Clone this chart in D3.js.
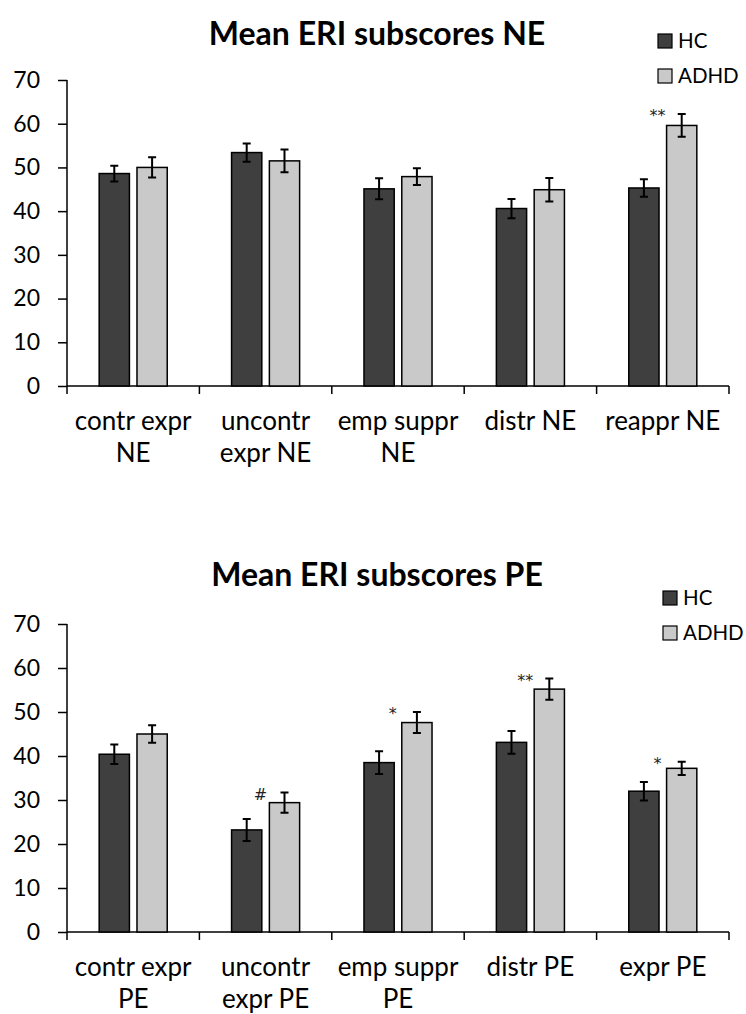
<!DOCTYPE html>
<html>
<head>
<meta charset="utf-8" />
<script src="https://d3js.org/d3.v7.min.js"></script>
<style>
body { margin: 0; background: #fff; }
svg text { font-family: Lato, "Open Sans", sans-serif; fill: #000; }
.title { font-weight: bold; font-size: 32px; }
.ytick text { font-size: 23px; }
.xlab { font-size: 26px; }
.legend text { font-size: 20.5px; }
.sig { font-family: "DejaVu Sans", sans-serif !important; font-size: 16px; fill: #222; }
</style>
</head>
<body>
<script>
// groups and values
var series = ["HC", "ADHD"];
var yTicks = [0, 10, 20, 30, 40, 50, 60, 70];

var categoriesNE = ["contr expr\nNE", "uncontr\nexpr NE", "emp suppr\nNE", "distr NE", "reappr NE"];
var hcNE = [48.6, 53.4, 45.1, 40.6, 45.3];
var adhdNE = [50.0, 51.5, 47.9, 44.9, 59.6];
var hcErrNE = [1.8, 2.1, 2.4, 2.2, 2.0];
var adhdErrNE = [2.3, 2.6, 1.9, 2.7, 2.6];
var sigNE = ["", "", "", "", "**"];

var categoriesPE = ["contr expr\nPE", "uncontr\nexpr PE", "emp suppr\nPE", "distr PE", "expr PE"];
var hcPE = [40.4, 23.2, 38.5, 43.1, 32.0];
var adhdPE = [45.0, 29.4, 47.6, 55.2, 37.2];
var hcErrPE = [2.2, 2.5, 2.6, 2.6, 2.1];
var adhdErrPE = [2.0, 2.3, 2.4, 2.4, 1.5];
var sigPE = ["", "#", "*", "**", "*"];

var colors = { HC: "#3f3f3f", ADHD: "#c9c9c9" };

var svg = d3.select("body").append("svg")
    .attr("width", 746)
    .attr("height", 1014);

function draw_chart(o) {
  var g = svg.append("g");

  var x = d3.scaleBand()
      .domain(o.categories)
      .range([67, 729])
      .paddingInner(0.486)
      .paddingOuter(0.243);
  var xs = d3.scaleBand()
      .domain(series)
      .range([0, x.bandwidth()])
      .paddingInner(0.2);
  var y = d3.scaleLinear()
      .domain([0, 70])
      .range([o.bottom, o.top]);

  // title
  g.append("text")
      .attr("class", "title")
      .attr("x", 377)
      .attr("y", o.titleY)
      .attr("text-anchor", "middle")
      .text(o.title);

  // y axis
  var yAxis = g.append("g")
      .attr("class", "ytick")
      .attr("transform", "translate(67,0)")
      .call(d3.axisLeft(y).tickValues(yTicks).tickSize(9).tickPadding(18));
  yAxis.selectAll("line, path").attr("stroke", "#000").attr("stroke-width", 1.5);
  yAxis.select(".domain").attr("d", "M0," + o.bottom + "V" + o.top);
  yAxis.selectAll("text").attr("fill", "#000").style("font-family", "Lato, sans-serif");

  // x axis line and boundary ticks
  var bounds = o.categories.map(function(d) {
    return x(d) - (x.step() - x.bandwidth()) / 2;
  }).concat([729]);
  g.append("line")
      .attr("x1", 67).attr("x2", 729)
      .attr("y1", y(0)).attr("y2", y(0))
      .attr("stroke", "#000").attr("stroke-width", 1.5);
  g.selectAll(".xtick")
      .data(bounds)
    .enter().append("line")
      .attr("x1", function(d) { return d; })
      .attr("x2", function(d) { return d; })
      .attr("y1", y(0))
      .attr("y2", y(0) + 8)
      .attr("stroke", "#000").attr("stroke-width", 1.5);

  // category labels, two lines where wrapped
  var labels = g.selectAll(".xlab")
      .data(o.categories)
    .enter().append("text")
      .attr("class", "xlab")
      .attr("text-anchor", "middle");
  labels.each(function(d) {
    var t = d3.select(this);
    d.split("\n").forEach(function(line, i) {
      t.append("tspan")
        .attr("x", x(d) + x.bandwidth() / 2)
        .attr("y", y(0) + 44 + i * 32)
        .text(line);
    });
  });

  // bars
  var rows = o.categories.map(function(c, i) {
    return [
      { cat: c, key: "HC", v: o.hc[i], e: o.hcErr[i] },
      { cat: c, key: "ADHD", v: o.adhd[i], e: o.adhdErr[i], sig: o.sig[i] }
    ];
  });
  var grp = g.selectAll(".cat")
      .data(rows)
    .enter().append("g")
      .attr("transform", function(d) { return "translate(" + x(d[0].cat) + ",0)"; });

  grp.selectAll("rect")
      .data(function(d) { return d; })
    .enter().append("rect")
      .attr("x", function(d) { return xs(d.key); })
      .attr("y", function(d) { return y(d.v); })
      .attr("width", xs.bandwidth())
      .attr("height", function(d) { return y(0) - y(d.v); })
      .attr("fill", function(d) { return colors[d.key]; })
      .attr("stroke", "#000")
      .attr("stroke-width", 1.5);

  // error bars
  grp.selectAll(".err")
      .data(function(d) { return d; })
    .enter().append("path")
      .attr("fill", "none")
      .attr("stroke", "#000")
      .attr("stroke-width", 2)
      .attr("d", function(d) {
        var cx = xs(d.key) + xs.bandwidth() / 2;
        var t = y(d.v + d.e), b = y(d.v - d.e);
        return "M" + (cx - 4) + "," + t + "H" + (cx + 4)
             + "M" + cx + "," + t + "V" + b
             + "M" + (cx - 4) + "," + b + "H" + (cx + 4);
      });

  // significance markers
  grp.selectAll(".sig")
      .data(function(d) { return d.filter(function(r) { return r.sig; }); })
    .enter().append("text")
      .attr("class", "sig")
      .attr("text-anchor", "middle")
      .attr("x", function(d) { return xs(d.key) - 9; })
      .attr("y", function(d) { return y(d.v + d.e) + 7; })
      .text(function(d) { return d.sig; });

  // legend
  var leg = g.append("g")
      .attr("class", "legend")
      .attr("transform", "translate(" + o.legX + "," + o.legY + ")");
  var li = leg.selectAll("g")
      .data(series)
    .enter().append("g")
      .attr("transform", function(d, i) { return "translate(0," + (i * 35) + ")"; });
  li.append("rect")
      .attr("x", 0).attr("y", -14)
      .attr("width", 14).attr("height", 14)
      .attr("fill", function(d) { return colors[d]; })
      .attr("stroke", "#000")
      .attr("stroke-width", 1.2);
  li.append("text")
      .attr("x", 20)
      .attr("y", 0)
      .text(function(d) { return d; });
}

draw_chart({
  title: "Mean ERI subscores NE", titleY: 45,
  top: 80, bottom: 386, legX: 658, legY: 48,
  categories: categoriesNE, hc: hcNE, adhd: adhdNE,
  hcErr: hcErrNE, adhdErr: adhdErrNE, sig: sigNE
});

draw_chart({
  title: "Mean ERI subscores PE", titleY: 586,
  top: 624, bottom: 932, legX: 663, legY: 605,
  categories: categoriesPE, hc: hcPE, adhd: adhdPE,
  hcErr: hcErrPE, adhdErr: adhdErrPE, sig: sigPE
});
</script>
</body>
</html>
